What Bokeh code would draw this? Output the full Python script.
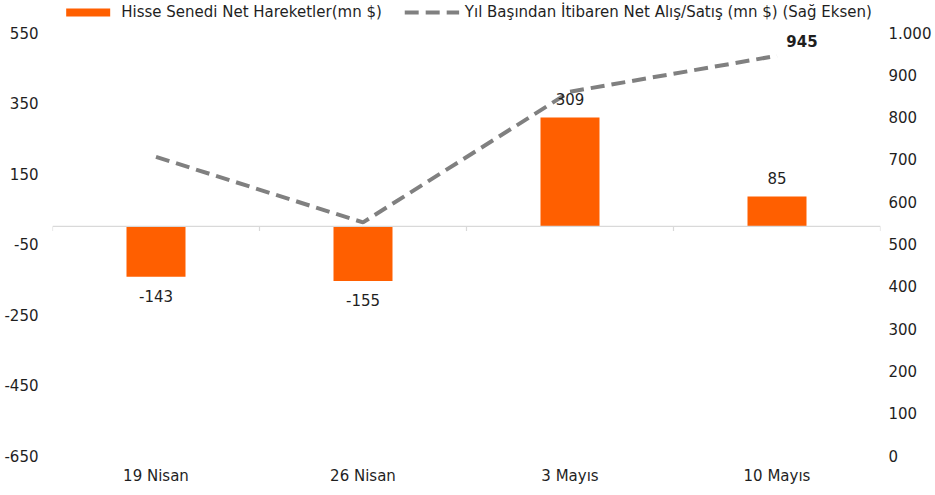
from bokeh.plotting import figure
from bokeh.models import Range1d, LinearAxis, FixedTicker, Span, ColumnDataSource, Legend, LegendItem
from bokeh.embed import file_html
from bokeh.resources import INLINE
from bokeh.core.properties import value

categories = ["19 Nisan", "26 Nisan", "3 Mayıs", "10 Mayıs"]
net_flows = [-143, -155, 309, 85]
ytd_cumulative = [706, 551, 860, 945]
left_ticks = [-650, -450, -250, -50, 150, 350, 550]
left_tick_labels = ["-650", "-450", "-250", "-50", "150", "350", "550"]
right_ticks = [0, 100, 200, 300, 400, 500, 600, 700, 800, 900, 1000]
right_tick_labels = ["0", "100", "200", "300", "400", "500", "600", "700", "800", "900", "1.000"]
bar_label = "Hisse Senedi Net Hareketler(mn $)"
line_label = "Yıl Başından İtibaren Net Alış/Satış (mn $) (Sağ Eksen)"

FONT = "DejaVu Sans"
TXT = "#1f1f1f"
ORANGE = "#FF5F00"
GRAY = "#808080"

n = len(categories)
centers = [i + 0.5 for i in range(n)]
bounds = list(range(n + 1))

# frame extends above the top tick to hold the legend (headroom in px)
left_lo, left_hi = -650, 550
right_lo, right_hi = 0, 1000
plot_px = 423.0
head_px = 32.0
left_top = left_hi + head_px * (left_hi - left_lo) / plot_px
right_top = right_hi + head_px * (right_hi - right_lo) / plot_px

p = figure(width=935, height=495, output_backend="svg", toolbar_location=None,
           x_range=Range1d(0, n), y_range=Range1d(left_lo, left_top),
           min_border_left=52, min_border_right=55, min_border_top=0, min_border_bottom=40)
p.extra_y_ranges = {"right": Range1d(right_lo, right_top)}
p.outline_line_color = None
p.xgrid.visible = False
p.ygrid.visible = False
p.background_fill_color = "white"

# axes
p.xaxis.ticker = FixedTicker(ticks=centers)
p.xaxis.major_label_overrides = {c: lab for c, lab in zip(centers, categories)}
p.yaxis.ticker = FixedTicker(ticks=left_ticks)
p.yaxis.major_label_overrides = {t: l for t, l in zip(left_ticks, left_tick_labels)}

ra = LinearAxis(y_range_name="right", ticker=FixedTicker(ticks=right_ticks),
                major_label_overrides={t: l for t, l in zip(right_ticks, right_tick_labels)})
p.add_layout(ra, "right")

for ax in [p.xaxis[0], p.yaxis[0], ra]:
    ax.axis_line_color = None
    ax.major_tick_line_color = None
    ax.minor_tick_line_color = None
    ax.major_tick_out = 0
    ax.major_tick_in = 0
    ax.minor_tick_out = 0
    ax.minor_tick_in = 0
    ax.major_label_text_font = FONT
    ax.major_label_text_font_size = "15px"
    ax.major_label_text_color = TXT
p.xaxis.major_label_standoff = 11
p.yaxis.major_label_standoff = 14
ra.major_label_standoff = 8

# zero line with category boundary ticks
p.add_layout(Span(location=0, dimension="width", line_color="#d9d9d9", line_width=1.2))
p.segment(x0=bounds, y0=[0] * len(bounds), x1=bounds, y1=[-13] * len(bounds),
          line_color="#d9d9d9", line_width=1.2)

src = ColumnDataSource(dict(x=centers, v=net_flows, y2=ytd_cumulative))
bars = p.vbar(x="x", top="v", bottom=0, width=0.285, source=src, fill_color=ORANGE, line_color=None)
line = p.line(x="x", y="y2", source=src, y_range_name="right", line_color=GRAY,
              line_width=4, line_dash="14 7")

# bar data labels
pos = ColumnDataSource(dict(x=[c for c, v in zip(centers, net_flows) if v >= 0],
                            y=[v for v in net_flows if v >= 0],
                            t=[str(v) for v in net_flows if v >= 0]))
neg = ColumnDataSource(dict(x=[c for c, v in zip(centers, net_flows) if v < 0],
                            y=[v for v in net_flows if v < 0],
                            t=[str(v) for v in net_flows if v < 0]))
p.text(x="x", y="y", text="t", source=pos, text_align="center", text_baseline="bottom",
       y_offset=-12, text_font=value(FONT), text_font_size="15px", text_color=TXT)
p.text(x="x", y="y", text="t", source=neg, text_align="center", text_baseline="top",
       y_offset=13, text_font=value(FONT), text_font_size="15px", text_color=TXT)

# last value label of line
last = ColumnDataSource(dict(x=[centers[-1]], y=[ytd_cumulative[-1]], t=[str(ytd_cumulative[-1])]))
p.text(x="x", y="y", text="t", source=last, y_range_name="right", text_align="center",
       text_baseline="bottom", x_offset=25, y_offset=-9, text_font=value(FONT),
       text_font_size="15px", text_font_style="bold", text_color=TXT)

legend = Legend(items=[LegendItem(label=bar_label, renderers=[bars]),
                       LegendItem(label=line_label, renderers=[line])],
                orientation="horizontal", location="top",
                glyph_width=55, glyph_height=10, label_standoff=6, spacing=22,
                padding=0, margin=3, border_line_color=None, background_fill_alpha=0,
                label_text_font=FONT, label_text_font_size="15px", label_text_color=TXT,
                label_height=14)
p.add_layout(legend, "center")

open("out.html", "w").write(file_html(p, INLINE))
